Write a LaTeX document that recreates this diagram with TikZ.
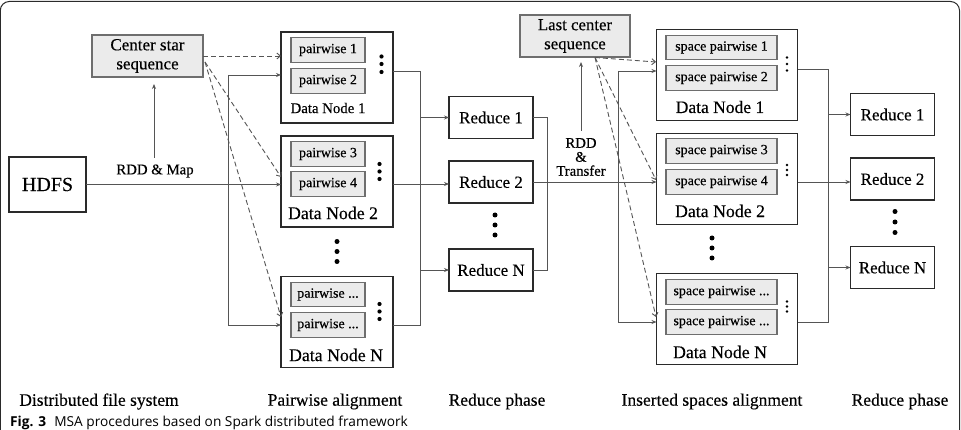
\documentclass[tikz,border=0pt]{standalone}
\usepackage{fontspec}
\setmainfont{Liberation Serif}[FakeBold=0.35]
\newfontfamily\capfont{Open Sans}
\usetikzlibrary{arrows.meta}
\definecolor{boxline}{HTML}{2A2A2A}
\definecolor{connc}{HTML}{555555}
\definecolor{innerfill}{HTML}{EBEBEB}
\definecolor{innerline}{HTML}{6E6E6E}
\tikzset{
  fs/.style={font=\fontsize{#1}{#1}\selectfont},
  outerbox/.style={draw=boxline, line width=1.6pt, inner sep=0pt, outer sep=0pt},
  graybox/.style={draw=innerline, fill=innerfill, line width=1.1pt, inner sep=0pt, outer sep=0pt},
  redbox/.style={outerbox, minimum width=84pt, minimum height=42pt, fs=17},
  dnL/.style={outerbox, minimum width=112pt, minimum height=91pt},
  dnR/.style={outerbox, minimum width=141pt, minimum height=91pt},
  pwL/.style={graybox, minimum width=74pt, minimum height=24.5pt, fs=14},
  pwR/.style={graybox, minimum width=111pt, minimum height=24.5pt, fs=14},
  conn/.style={draw=connc, line width=0.9pt},
  arr/.style={conn, -{Stealth[length=5pt,width=4pt]}},
  darr/.style={draw=connc, line width=0.9pt, dash pattern=on 5pt off 3pt, -{Straight Barb[length=3.5pt,width=6pt]}},
  bigdot/.style={fill=black},
  phase/.style={fs=17.5, inner sep=0pt}
}
\begin{document}
\begin{tikzpicture}[x=1pt,y=-1pt]
\useasboundingbox (0,0) rectangle (961,430);
% frame
\draw[boxline, line width=1pt, rounded corners=9pt] (0.3,1.5) rectangle (959.5,470);

% ---------- left part ----------
\node[outerbox, minimum width=77pt, minimum height=55pt, fs=20] (HDFS) at (47.5,184.5) {HDFS};
\node[graybox, draw=innerline, minimum width=111pt, minimum height=42pt, align=center, font=\fontsize{17}{19}\selectfont] (CSS) at (147.5,56) {Center star\\sequence};
\node[fs=14.8, inner sep=0pt] (rddmap) at (155,171) {RDD \& Map};
\coordinate (upS) at (154,158);
\coordinate (upE) at (154,84);
\draw[arr] (upS) -- (upE);

% data nodes left
\node[dnL] (DN1L) at (337,77.5) {};
\node[pwL] (p1) at (328,50) {pairwise 1};
\node[pwL] (p2) at (328,81) {pairwise 2};
\node[fs=14.8, inner sep=0pt] (l1) at (328,108) {Data Node 1};
\foreach \y in {56.5,64,72} \fill[bigdot] (381.5,\y) circle (2.1pt);

\node[dnL] (DN2L) at (337,181.5) {};
\node[pwL] (p3) at (328,154) {pairwise 3};
\node[pwL] (p4) at (328,184) {pairwise 4};
\node[fs=17.8, inner sep=0pt] (l2) at (333,213) {Data Node 2};
\foreach \y in {164,171.5,179} \fill[bigdot] (379.5,\y) circle (2.1pt);

\foreach \y in {241.5,251.5,261.5} \fill[bigdot] (337,\y) circle (2.5pt);

\node[dnL] (DNNL) at (337,322) {};
\node[pwL] (p5) at (328,294.5) {pairwise ...};
\node[pwL] (p6) at (328,325) {pairwise ...};
\node[fs=17.8, inner sep=0pt] (l3) at (336,355) {Data Node N};
\foreach \y in {304,311.5,319} \fill[bigdot] (379.5,\y) circle (2.1pt);

% reduce left
\node[redbox] (R1L) at (491,117.5) {Reduce 1};
\node[redbox] (R2L) at (491,182) {Reduce 2};
\foreach \y in {215,225,235} \fill[bigdot] (495,\y) circle (2.5pt);
\node[redbox] (RNL) at (491,270) {Reduce N};

% connectors left
\draw[arr] (HDFS.east) -- (HDFS.east -| DN2L.west);
\coordinate (bA) at (228,75);
\coordinate (bC) at (228,325);
\draw[conn] (bA) -- (bC);
\draw[arr] (bA) -- (bA -| DN1L.west);
\draw[arr] (bC) -- (bC -| DNNL.west);

\coordinate (ds1) at (205,62);
\coordinate (dt2) at (281,177);
\coordinate (dtN) at (281,317);
\draw[darr] (CSS.east) -- (CSS.east -| DN1L.west);
\draw[darr] (ds1) -- (dt2);
\draw[darr] (ds1) -- (dtN);

\coordinate (mA) at (420,71);
\coordinate (mC) at (420,325);
\draw[conn] (mA -| DN1L.east) -- (mA) -- (mC) -- (mC -| DNNL.east);
\draw[arr] (mA |- R1L.west) -- (R1L.west);
\draw[arr] (mA |- RNL.west) -- (RNL.west);
\draw[arr] (DN2L.east |- p4) -- (R2L.west |- p4);

\coordinate (kA) at (547.5,117.5);
\draw[conn] (R1L.east) -- (kA) |- (RNL.east);

% ---------- right part ----------
\node[graybox, draw=innerline, minimum width=110pt, minimum height=42pt, align=center, font=\fontsize{16.8}{19}\selectfont] (LCS) at (575,36) {Last center\\sequence};
\node[align=center, font=\fontsize{14.7}{14}\selectfont, inner sep=0pt] (rddtr) at (581,157) {RDD\\\&\\Transfer};
\coordinate (up2S) at (581,131);
\coordinate (up2E) at (581,62);
\draw[arr] (up2S) -- (up2E);

\node[dnR] (DN1R) at (727,75) {};
\node[pwR] (s1) at (721.5,47.5) {space pairwise 1};
\node[pwR] (s2) at (721.5,78) {space pairwise 2};
\node[fs=17.5, inner sep=0pt] (r1) at (720,107) {Data Node 1};
\foreach \y in {57.5,64,70.5} \fill[bigdot] (787,\y) circle (1.4pt);

\node[dnR] (DN2R) at (727,179) {};
\node[pwR] (s3) at (721.5,151) {space pairwise 3};
\node[pwR] (s4) at (721.5,182) {space pairwise 4};
\node[fs=17.8, inner sep=0pt] (r2) at (720,211) {Data Node 2};
\foreach \y in {165,170,175} \fill[bigdot] (787,\y) circle (1.4pt);

\foreach \y in {238,248,258} \fill[bigdot] (712,\y) circle (2.5pt);

\node[dnR] (DNNR) at (727,319) {};
\node[pwR] (s5) at (721.5,292) {space pairwise ...};
\node[pwR] (s6) at (721.5,322) {space pairwise ...};
\node[fs=17.8, inner sep=0pt] (r3) at (720,352) {Data Node N};
\foreach \y in {301.5,306.5,311.5} \fill[bigdot] (787,\y) circle (1.4pt);

\node[redbox] (R1R) at (892.5,114.5) {Reduce 1};
\node[redbox] (R2R) at (892.5,179) {Reduce 2};
\foreach \y in {211.5,222,232.5} \fill[bigdot] (895,\y) circle (2.5pt);
\node[redbox] (RNR) at (892.5,267.5) {Reduce N};

% connectors right
\draw[arr] (R2L.east) -- (R2L.east -| DN2R.west);
\coordinate (cA) at (618,71);
\coordinate (cC) at (618,322);
\draw[conn] (cA) -- (cC);
\draw[arr] (cA) -- (cA -| DN1R.west);
\draw[arr] (cC) -- (cC -| DNNR.west);

\coordinate (es) at (595,57.5);
\coordinate (et1) at (656,62);
\coordinate (et2) at (656,180);
\coordinate (etN) at (656,317);
\draw[darr] (es) -- (et1);
\draw[darr] (es) -- (et2);
\draw[darr] (es) -- (etN);

\coordinate (nA) at (828,69);
\coordinate (nC) at (828,322);
\draw[conn] (nA -| DN1R.east) -- (nA) -- (nC) -- (nC -| DNNR.east);
\draw[arr] (nA |- R1R.west) -- (R1R.west);
\draw[arr] (nA |- RNR.west) -- (RNR.west);
\draw[arr] (DN2R.east |- R2L.east) -- (R2R.west |- R2L.east);

% ---------- phase labels ----------
\node[phase] (ph1) at (99,401.5) {Distributed file system};
\node[phase] (ph2) at (335,401.5) {Pairwise alignment};
\node[phase] (ph3) at (497,401.5) {Reduce phase};
\node[phase] (ph4) at (712,401.5) {Inserted spaces alignment};
\node[phase] (ph5) at (900,401.5) {Reduce phase};

\node[anchor=west, inner sep=0pt, font=\capfont\fontsize{13.7}{15}\selectfont] (cap) at (10,422.5) {\textbf{Fig. 3}\hspace{0.6em}MSA procedures based on Spark distributed framework};
\end{tikzpicture}
\end{document}
